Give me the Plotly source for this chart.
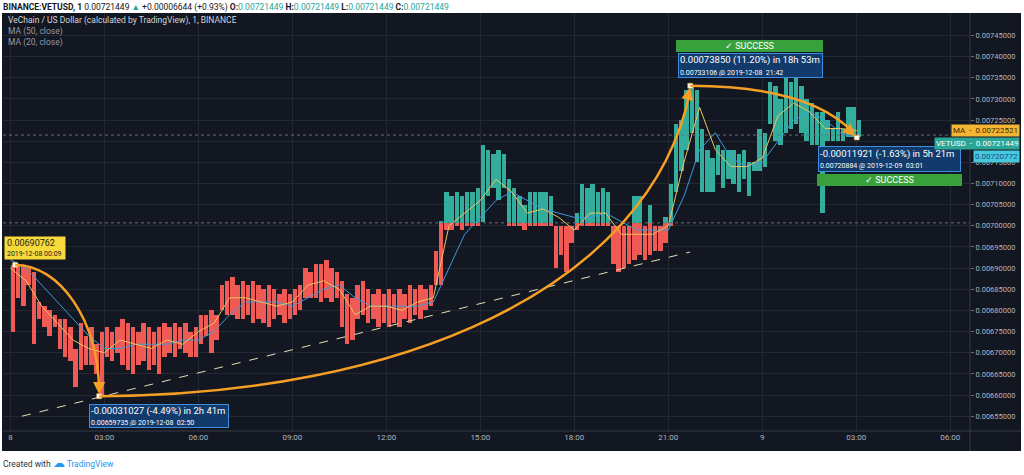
import numpy as np
import plotly.graph_objects as go

# ---------------- data ----------------
BIN_MIN = 10  # each value pair covers 10 minutes, starting 2019-12-08 00:00

price_high = [
    0.006908, 0.006910, 0.006905, 0.006900, 0.006890, 0.006820, 0.006810, 0.006800, 0.006790, 0.006780,
    0.006780, 0.006760, 0.006710, 0.006770, 0.006740, 0.006760, 0.006720, 0.006750, 0.006760, 0.006750,
    0.006760, 0.006780, 0.006770, 0.006760, 0.006750, 0.006770, 0.006760, 0.006750, 0.006760, 0.006770,
    0.006760, 0.006770, 0.006760, 0.006770, 0.006750, 0.006760, 0.006790, 0.006790, 0.006800, 0.006790,
    0.006860, 0.006870, 0.006880, 0.006860, 0.006870, 0.006860, 0.006870, 0.006860, 0.006850, 0.006860,
    0.006850, 0.006840, 0.006850, 0.006840, 0.006850, 0.006860, 0.006900, 0.006890, 0.006910, 0.006910,
    0.006920, 0.006900, 0.006890, 0.006870, 0.006840, 0.006830, 0.006860, 0.006870, 0.006850, 0.006840,
    0.006850, 0.006840, 0.006850, 0.006840, 0.006850, 0.006840, 0.006860, 0.006850, 0.006860, 0.006850,
    0.006860, 0.006940, 0.007010, 0.007080, 0.007070, 0.007080, 0.007070, 0.007080, 0.007080, 0.007090,
    0.007190, 0.007180, 0.007170, 0.007180, 0.007170, 0.007110, 0.007090, 0.007070, 0.007050, 0.007080,
    0.007080, 0.007080, 0.007080, 0.007070, 0.007000, 0.007000, 0.007000, 0.007000, 0.007030, 0.007100,
    0.007090, 0.007100, 0.007080, 0.007090, 0.007080, 0.007000, 0.007000, 0.007000, 0.007000, 0.007070,
    0.007070, 0.007000, 0.007050, 0.007000, 0.007000, 0.007020, 0.007100, 0.007240, 0.007250, 0.007320,
    0.007331, 0.007320, 0.007230, 0.007180, 0.007160, 0.007190, 0.007180, 0.007180, 0.007180, 0.007170,
    0.007180, 0.007150, 0.007150, 0.007230, 0.007220, 0.007340, 0.007330, 0.007300, 0.007350, 0.007340,
    0.007360, 0.007330, 0.007300, 0.007290, 0.007270, 0.007270, 0.007250, 0.007230, 0.007270, 0.007230,
    0.007280, 0.007280, 0.007250,
]
price_low = [
    0.006750, 0.006830, 0.006810, 0.006860, 0.006720, 0.006780, 0.006760, 0.006740, 0.006760, 0.006710,
    0.006690, 0.006680, 0.006620, 0.006660, 0.006670, 0.006670, 0.006650, 0.006597, 0.006690, 0.006680,
    0.006700, 0.006670, 0.006660, 0.006650, 0.006670, 0.006680, 0.006660, 0.006670, 0.006650, 0.006690,
    0.006700, 0.006690, 0.006710, 0.006700, 0.006690, 0.006690, 0.006720, 0.006740, 0.006700, 0.006730,
    0.006800, 0.006790, 0.006790, 0.006780, 0.006780, 0.006790, 0.006770, 0.006780, 0.006770, 0.006760,
    0.006780, 0.006790, 0.006770, 0.006780, 0.006790, 0.006800, 0.006830, 0.006830, 0.006830, 0.006820,
    0.006830, 0.006820, 0.006830, 0.006760, 0.006720, 0.006730, 0.006780, 0.006790, 0.006770, 0.006780,
    0.006760, 0.006770, 0.006760, 0.006770, 0.006760, 0.006780, 0.006770, 0.006790, 0.006780, 0.006800,
    0.006810, 0.006860, 0.006860, 0.006990, 0.006990, 0.007000, 0.006990, 0.007000, 0.007000, 0.007000,
    0.007010, 0.007070, 0.007090, 0.007060, 0.007090, 0.007000, 0.007000, 0.007000, 0.006990, 0.007000,
    0.007000, 0.007000, 0.007000, 0.007000, 0.006900, 0.006930, 0.006890, 0.006960, 0.006990, 0.007000,
    0.007000, 0.007000, 0.007000, 0.007000, 0.007000, 0.006910, 0.006890, 0.006900, 0.006910, 0.006920,
    0.006930, 0.006920, 0.006930, 0.006940, 0.006940, 0.006960, 0.007000, 0.007080, 0.007130, 0.007180,
    0.007220, 0.007150, 0.007080, 0.007080, 0.007080, 0.007120, 0.007090, 0.007110, 0.007100, 0.007080,
    0.007110, 0.007070, 0.007130, 0.007130, 0.007140, 0.007240, 0.007200, 0.007190, 0.007220, 0.007230,
    0.007240, 0.007220, 0.007200, 0.007190, 0.007190, 0.007030, 0.007200, 0.007200, 0.007200, 0.007200,
    0.007210, 0.007210, 0.007210,
]

MA_STEP_H = 0.5  # moving-average values every 30 minutes
ma20 = [0.00690, 0.00687, 0.00681, 0.00677, 0.00673, 0.00671, 0.00670, 0.00673, 0.00672, 0.00671,
        0.00673, 0.00672, 0.00675, 0.00677, 0.00683, 0.00683, 0.00682, 0.00681, 0.00682, 0.00686,
        0.00687, 0.00685, 0.00679, 0.00681, 0.00681, 0.00680, 0.00682, 0.00683, 0.00700, 0.00703,
        0.00706, 0.00711, 0.00708, 0.00703, 0.00704, 0.00702, 0.00699, 0.00703, 0.00703, 0.00698,
        0.00698, 0.00698, 0.00700, 0.00715, 0.00728, 0.00718, 0.00714, 0.00714, 0.00716, 0.00726,
        0.00729, 0.00727, 0.00723, 0.00723, 0.00722521]
ma50 = [0.00692, 0.00690, 0.00686, 0.00682, 0.00678, 0.00674, 0.00671, 0.00671, 0.00672, 0.00672,
        0.00672, 0.00673, 0.00673, 0.00675, 0.00679, 0.00682, 0.00682, 0.00682, 0.00681, 0.00683,
        0.00685, 0.00686, 0.00683, 0.00681, 0.00681, 0.00681, 0.00681, 0.00682, 0.00690, 0.00698,
        0.00702, 0.00706, 0.00708, 0.00706, 0.00704, 0.00703, 0.00702, 0.00702, 0.00703, 0.00701,
        0.00699, 0.00699, 0.00699, 0.00707, 0.00718, 0.00722, 0.00716, 0.00714, 0.00715, 0.00720,
        0.00725, 0.00727, 0.00725, 0.00722, 0.00720772]

baseline = 0.007007
last_price = 0.00721449
ma_last = 0.00722521
ma2_last = 0.00720772

# measurement points (hours since 2019-12-08 00:00, price)
pt_A = (9 / 60, 0.00690762)
pt_B = (2 + 50 / 60, 0.00659735)
pt_C = (21 + 42 / 60, 0.00733106)
pt_D = (27 + 1 / 60, 0.00720884)

# user-drawn dashed trend line
trend_t = [0.37, 21.69]
trend_p = [0.006550, 0.006938]

x_tick_vals = [0, 3, 6, 9, 12, 15, 18, 21, 24, 27, 30]
x_tick_text = ["8", "03:00", "06:00", "09:00", "12:00", "15:00", "18:00", "21:00", "9", "03:00", "06:00"]
y_tick_vals = [0.00655, 0.00660, 0.00665, 0.00670, 0.00675, 0.00680, 0.00685, 0.00690, 0.00695,
               0.00700, 0.00705, 0.00710, 0.00715, 0.00720, 0.00725, 0.00730, 0.00735, 0.00740, 0.00745]

# ---------------- styling ----------------
W, H = 1024, 475
L, R, T, B = 3, 54, 13, 44
PW, PH = W - L - R, H - T - B
BG = "#131722"
GRID = "#242833"
TXT = "#b2b5be"
RED = "#ef5a55"
TEAL = "#34ae9c"
ORANGE = "#f59f24"
FONT = "Roboto"


def px(x):
    return (x - L) / PW


def py(y):
    return (H - B - y) / PH


hi = np.array(price_high)
lo = np.array(price_low)
n = len(hi)
t_mid = (np.arange(n) + 0.5) * BIN_MIN / 60
bw = BIN_MIN / 60

red_mask = lo < baseline
red_top = np.minimum(hi, baseline)
teal_mask = hi > baseline
teal_base = np.maximum(lo, baseline)

fig = go.Figure()
fig.add_trace(go.Bar(x=t_mid[red_mask], base=lo[red_mask], y=(red_top - lo)[red_mask], width=bw * 0.85,
                     marker=dict(color=RED, line=dict(width=0)), hoverinfo="skip"))
fig.add_trace(go.Bar(x=t_mid[teal_mask], base=teal_base[teal_mask], y=(hi - teal_base)[teal_mask], width=bw * 0.85,
                     marker=dict(color=TEAL, line=dict(width=0)), hoverinfo="skip"))

ma_t = np.arange(len(ma20)) * MA_STEP_H
ma_t[-1] = pt_D[0]
fig.add_trace(go.Scatter(x=ma_t, y=ma50, mode="lines", line=dict(color="#3f9ad8", width=1), hoverinfo="skip"))
fig.add_trace(go.Scatter(x=ma_t, y=ma20, mode="lines", line=dict(color="#f1c35a", width=1), hoverinfo="skip"))

# trend line
fig.add_trace(go.Scatter(x=trend_t, y=trend_p, mode="lines",
                         line=dict(color="#e4dfb8", width=1, dash="dash"), hoverinfo="skip"))


def f(v):
    return f"{v:.8f}"


shapes = []
# dark chart panel
shapes.append(dict(type="rect", xref="paper", yref="paper", x0=px(2), x1=px(1021), y0=py(451), y1=py(13),
                   fillcolor=BG, line=dict(width=0), layer="below"))
# separators
shapes.append(dict(type="line", xref="paper", yref="paper", x0=px(3), x1=px(1021), y0=0, y1=0,
                   line=dict(color="#363a45", width=1)))
shapes.append(dict(type="line", xref="paper", yref="paper", x0=1, x1=1, y0=py(451), y1=1,
                   line=dict(color="#363a45", width=1)))
# dotted lines (baseline and last price)
shapes.append(dict(type="line", xref="paper", yref="y", x0=0, x1=1, y0=baseline, y1=baseline,
                   line=dict(color="#6a6d78", width=1, dash="dot")))
shapes.append(dict(type="line", xref="paper", yref="y", x0=0, x1=1, y0=last_price, y1=last_price,
                   line=dict(color="#6a6d78", width=1, dash="dot")))

# orange measurement arcs
arc1 = (f"M {f(pt_A[0])},{f(pt_A[1])} C 1.58,{f(pt_A[1])} {f(pt_B[0] - 0.03)},0.00677700 "
        f"{f(pt_B[0])},{f(pt_B[1] + 0.000012)}")
arc2 = (f"M {f(pt_B[0])},{f(pt_B[1])} C 12.43,0.00660000 20.41,0.00684800 {f(pt_C[0])},{f(pt_C[1] - 0.000012)}")
arc3 = f"M {f(pt_C[0])},{f(pt_C[1])} Q 25.52,0.00733000 {f(pt_D[0] - 0.12)},{f(pt_D[1] + 0.000012)}"
for p in (arc1, arc2, arc3):
    shapes.append(dict(type="path", xref="x", yref="y", path=p, line=dict(color=ORANGE, width=2.5)))

# point markers
fig.add_trace(go.Scatter(x=[pt_A[0], pt_B[0], pt_C[0], pt_D[0]], y=[pt_A[1], pt_B[1], pt_C[1], pt_D[1]],
                         mode="markers", marker=dict(symbol="square", size=5, color="white",
                                                     line=dict(color=ORANGE, width=0.5)),
                         hoverinfo="skip"))

ann = []
# arrowheads
for (pt, axo, ayo) in ((pt_B, 0, -14), (pt_C, -3, 14), (pt_D, -11, -10)):
    ann.append(dict(x=pt[0], y=pt[1], xref="x", yref="y", text="", showarrow=True, ax=axo, ay=ayo,
                    arrowcolor=ORANGE, arrowhead=2, arrowsize=1.1, arrowwidth=2.2, standoff=2))

# header
hdr = ("<b>BINANCE:VETUSD, 1</b> 0.00721449 <span style='color:#26a69a'>▲</span> +0.00006644 (+0.93%) "
       "<b>O:</b><span style='color:#26a69a'>0.00721449</span> <b>H:</b><span style='color:#26a69a'>0.00721449</span> "
       "<b>L:</b><span style='color:#26a69a'>0.00721449</span> <b>C:</b><span style='color:#26a69a'>0.00721449</span>")
ann.append(dict(x=px(1), y=py(0), xref="paper", yref="paper", xanchor="left", yanchor="top", text=hdr,
                showarrow=False, font=dict(family=FONT, size=8.5, color="#131722")))
# legend lines inside panel
ann.append(dict(x=px(6), y=py(13), xref="paper", yref="paper", xanchor="left", yanchor="top",
                text="VeChain / US Dollar (calculated by TradingView), 1, BINANCE", showarrow=False,
                font=dict(family=FONT, size=8.5, color="#d1d4dc")))
ann.append(dict(x=px(6), y=py(24), xref="paper", yref="paper", xanchor="left", yanchor="top",
                text="MA (50, close)", showarrow=False, font=dict(family=FONT, size=8.5, color="#9598a1")))
ann.append(dict(x=px(6), y=py(35), xref="paper", yref="paper", xanchor="left", yanchor="top",
                text="MA (20, close)", showarrow=False, font=dict(family=FONT, size=8.5, color="#9598a1")))
# footer
ann.append(dict(x=px(1), y=py(463), xref="paper", yref="paper", xanchor="left", yanchor="middle",
                text="<span style='color:#333'>Created with </span><span style='color:#2196f3;font-size:12px'>☁</span>"
                     "<span style='color:#2196f3'> TradingView</span>",
                showarrow=False, font=dict(family=FONT, size=8.5, color="#333")))


def meas_box(cx, cy, w, h, line1, line2):
    return dict(x=px(cx), y=py(cy), xref="paper", yref="paper", xanchor="center", yanchor="middle",
                text=f"<span style='font-size:9.5px'>{line1}</span><br><span style='font-size:7px'>{line2}</span>",
                showarrow=False, align="left", width=w - 6, height=h - 4, bgcolor="#123a6b",
                bordercolor="#3d8de0", borderwidth=1, borderpad=1, valign="middle",
                font=dict(family=FONT, size=8.5, color="white"))


def success_box(cx, cy, w, h):
    return dict(x=px(cx), y=py(cy), xref="paper", yref="paper", xanchor="center", yanchor="middle",
                text="✓ SUCCESS", showarrow=False, width=w - 2, height=h - 2, bgcolor="#38a13c",
                bordercolor="#38a13c", borderwidth=0, borderpad=1,
                font=dict(family=FONT, size=9, color="white"))


ann.append(meas_box(159, 416, 142, 24, "-0.00031027 (-4.49%) in 2h 41m", "0.00659735 @ 2019-12-08  02:50"))
ann.append(success_box(749.5, 46, 147, 12))
ann.append(meas_box(750.5, 65.5, 147, 25, "0.00073850 (11.20%) in 18h 53m", "0.00733106 @ 2019-12-08  21:42"))
ann.append(meas_box(889.5, 159, 145, 26, "-0.00011921 (-1.63%) in 5h 21m", "0.00720884 @ 2019-12-09  03:01"))
ann.append(success_box(889.5, 180, 145, 12))

# yellow start label
ann.append(dict(x=px(4), y=py(248), xref="paper", yref="paper", xanchor="left", yanchor="middle",
                text="<span style='font-size:9px'>0.00690762</span><br><span style='font-size:7px'>2019-12-08 00:09</span>",
                showarrow=False, align="left", bgcolor="#f7d939", borderpad=2, width=56, height=18,
                font=dict(family=FONT, size=8, color="#222")))

# price-axis tags
ann.append(dict(x=px(1020), y=ma_last, xref="paper", yref="y", xanchor="right", yanchor="middle",
                text="MA  -  0.00722521", showarrow=False, bgcolor="#f4b534", borderpad=1,
                font=dict(family=FONT, size=8, color="#3a2a00")))
ann.append(dict(x=px(1020), y=last_price, yshift=-8, xref="paper", yref="y", xanchor="right", yanchor="middle",
                text="VETUSD  -  0.00721449", showarrow=False, bgcolor="#2aa596", borderpad=1,
                font=dict(family=FONT, size=8, color="white")))
ann.append(dict(x=px(1020), y=ma2_last, yshift=-19, xref="paper", yref="y", xanchor="right", yanchor="middle",
                text="0.00720772", showarrow=False, bgcolor="#47c9dc", borderpad=1,
                font=dict(family=FONT, size=8, color="#14508f")))

fig.update_layout(
    width=W, height=H, margin=dict(l=L, r=R, t=T, b=B, pad=0),
    paper_bgcolor="white", plot_bgcolor=BG, barmode="overlay", bargap=0, showlegend=False,
    shapes=shapes, annotations=ann,
    xaxis=dict(range=[-0.236, 30.63], tickvals=x_tick_vals, ticktext=x_tick_text, showgrid=True,
               gridcolor=GRID, gridwidth=1, zeroline=False, showline=False, ticks="", automargin=False,
               tickfont=dict(family=FONT, size=8, color=TXT), fixedrange=True),
    yaxis=dict(range=[0.006515, 0.007503], side="right", tickvals=y_tick_vals, tickformat=".8f",
               showgrid=True, gridcolor=GRID, gridwidth=1, zeroline=False, showline=False,
               ticks="outside", ticklen=3, tickcolor="#6a6d78", automargin=False,
               tickfont=dict(family=FONT, size=7.5, color=TXT), fixedrange=True),
)

fig.write_html("out.html", config={"displayModeBar": False},
               post_script="document.body.style.margin='0px';document.body.style.overflow='hidden';")
